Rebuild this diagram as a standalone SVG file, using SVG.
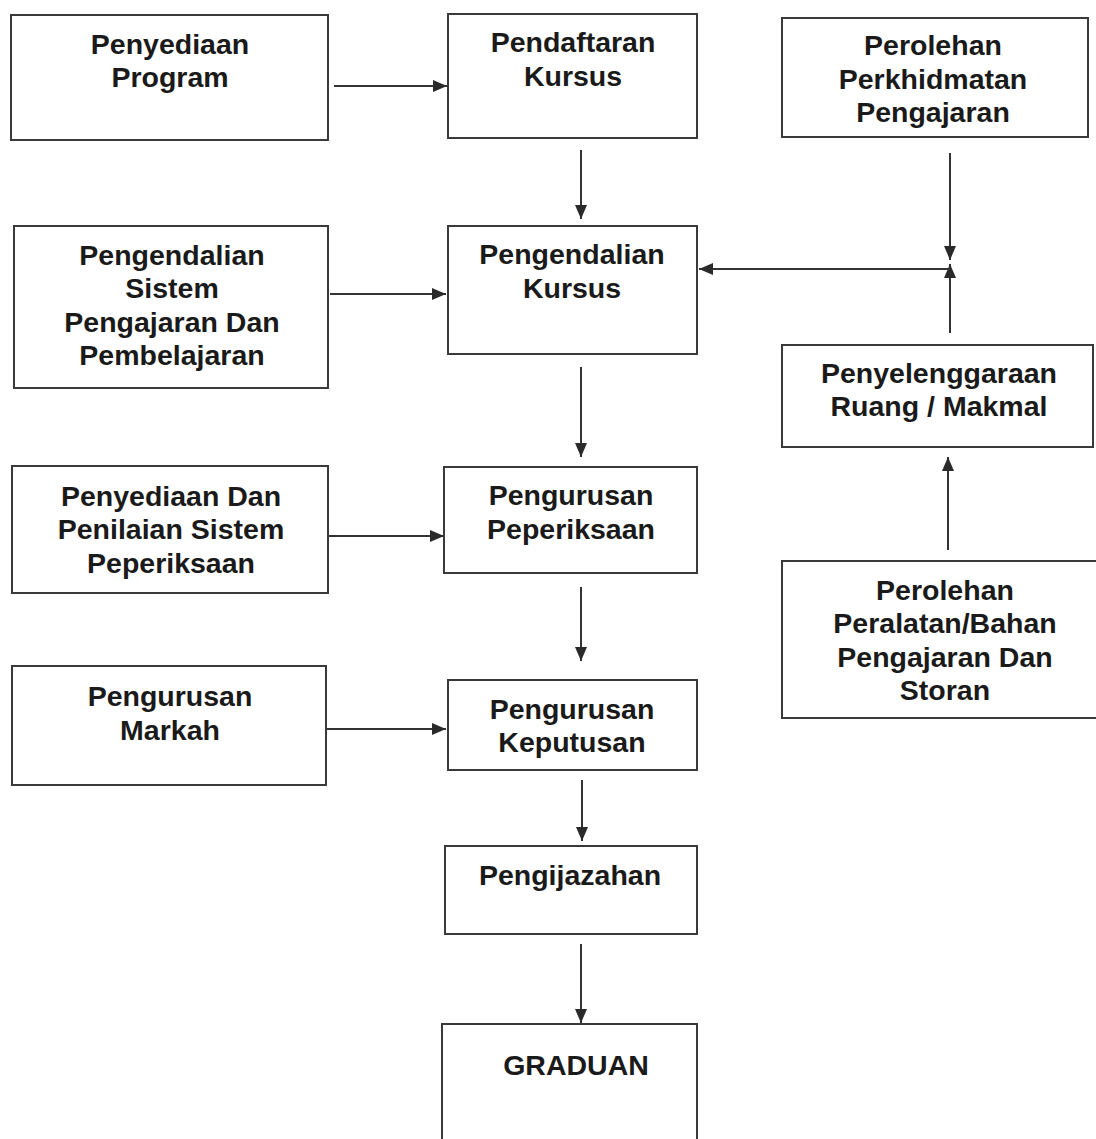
<svg xmlns="http://www.w3.org/2000/svg" width="1096" height="1139" viewBox="0 0 1096 1139">
<defs>
<style>
.box{fill:#fff;stroke:#3a3a3a;stroke-width:2}
.t{font-family:"Liberation Sans",Arial,sans-serif;font-weight:bold;font-size:28.5px;fill:#1a1a1a;text-anchor:middle}
.c{stroke:#333;stroke-width:2;fill:none}
</style>
<marker id="ah" markerUnits="userSpaceOnUse" markerWidth="16" markerHeight="14" refX="14" refY="6" orient="auto">
<path d="M0,0 L14,6 L0,12 z" fill="#2a2a2a"/>
</marker>
</defs>
<rect width="1096" height="1139" fill="#fff"/>
<g id="connectors">
<line class="c" x1="334" y1="86" x2="447" y2="86" marker-end="url(#ah)"/>
<line class="c" x1="581" y1="150" x2="581" y2="219" marker-end="url(#ah)"/>
<line class="c" x1="330" y1="294" x2="446" y2="294" marker-end="url(#ah)"/>
<line class="c" x1="950" y1="153" x2="950" y2="260" marker-end="url(#ah)"/>
<line class="c" x1="950" y1="333" x2="950" y2="264" marker-end="url(#ah)"/>
<line class="c" x1="950" y1="269" x2="699" y2="269" marker-end="url(#ah)"/>
<line class="c" x1="581" y1="367" x2="581" y2="457" marker-end="url(#ah)"/>
<line class="c" x1="328" y1="536" x2="444" y2="536" marker-end="url(#ah)"/>
<line class="c" x1="581" y1="587" x2="581" y2="661" marker-end="url(#ah)"/>
<line class="c" x1="326" y1="729" x2="446" y2="729" marker-end="url(#ah)"/>
<line class="c" x1="582" y1="780" x2="582" y2="841" marker-end="url(#ah)"/>
<line class="c" x1="948" y1="550" x2="948" y2="457" marker-end="url(#ah)"/>
<line class="c" x1="581" y1="944" x2="581" y2="1023" marker-end="url(#ah)"/>
</g>
<g id="n-penyediaan-program">
<rect class="box" x="11" y="15" width="317" height="125"/>
<text class="t" x="170" y="54">Penyediaan</text>
<text class="t" x="170" y="87">Program</text>
</g>
<g id="n-pendaftaran">
<rect class="box" x="448" y="14" width="249" height="124"/>
<text class="t" x="573" y="52">Pendaftaran</text>
<text class="t" x="573" y="86">Kursus</text>
</g>
<g id="n-perolehan-perkhidmatan">
<rect class="box" x="782" y="18" width="306" height="119"/>
<text class="t" x="933" y="55">Perolehan</text>
<text class="t" x="933" y="89">Perkhidmatan</text>
<text class="t" x="933" y="122">Pengajaran</text>
</g>
<g id="n-pengendalian-sistem">
<rect class="box" x="14" y="226" width="314" height="162"/>
<text class="t" x="172" y="265">Pengendalian</text>
<text class="t" x="172" y="298">Sistem</text>
<text class="t" x="172" y="332">Pengajaran Dan</text>
<text class="t" x="172" y="365">Pembelajaran</text>
</g>
<g id="n-pengendalian-kursus">
<rect class="box" x="448" y="226" width="249" height="128"/>
<text class="t" x="572" y="264">Pengendalian</text>
<text class="t" x="572" y="298">Kursus</text>
</g>
<g id="n-penyelenggaraan">
<rect class="box" x="782" y="345" width="311" height="102"/>
<text class="t" x="939" y="383">Penyelenggaraan</text>
<text class="t" x="939" y="416">Ruang / Makmal</text>
</g>
<g id="n-perolehan-peralatan">
<rect class="box" x="782" y="561" width="316" height="157"/>
<text class="t" x="945" y="600">Perolehan</text>
<text class="t" x="945" y="633">Peralatan/Bahan</text>
<text class="t" x="945" y="667">Pengajaran Dan</text>
<text class="t" x="945" y="700">Storan</text>
</g>
<g id="n-penyediaan-penilaian">
<rect class="box" x="12" y="466" width="316" height="127"/>
<text class="t" x="171" y="506">Penyediaan Dan</text>
<text class="t" x="171" y="539">Penilaian Sistem</text>
<text class="t" x="171" y="573">Peperiksaan</text>
</g>
<g id="n-pengurusan-peperiksaan">
<rect class="box" x="444" y="467" width="253" height="106"/>
<text class="t" x="571" y="505">Pengurusan</text>
<text class="t" x="571" y="539">Peperiksaan</text>
</g>
<g id="n-pengurusan-markah">
<rect class="box" x="12" y="666" width="314" height="119"/>
<text class="t" x="170" y="706">Pengurusan</text>
<text class="t" x="170" y="740">Markah</text>
</g>
<g id="n-pengurusan-keputusan">
<rect class="box" x="448" y="680" width="249" height="90"/>
<text class="t" x="572" y="719">Pengurusan</text>
<text class="t" x="572" y="752">Keputusan</text>
</g>
<g id="n-pengijazahan">
<rect class="box" x="445" y="846" width="252" height="88"/>
<text class="t" x="570" y="885">Pengijazahan</text>
</g>
<g id="n-graduan">
<rect class="box" x="442" y="1024" width="255" height="118"/>
<text class="t" x="576" y="1075">GRADUAN</text>
</g>
</svg>
